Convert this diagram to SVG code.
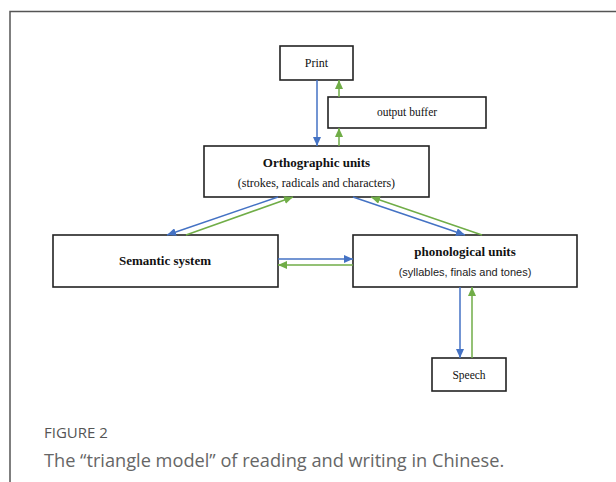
<svg xmlns="http://www.w3.org/2000/svg" width="616" height="482" viewBox="0 0 616 482">
<style>
.box{fill:#fff;stroke:#222;stroke-width:1.6}
.t{font-family:"Liberation Serif","Times New Roman",serif;fill:#111;text-anchor:middle}
.b{font-weight:bold;font-size:13px}
.s{font-family:"Liberation Sans",Arial,sans-serif;fill:#222;text-anchor:middle;font-size:11px}
.blue{stroke:#4472C4;stroke-width:1.5;fill:none;marker-end:url(#ab)}
.green{stroke:#70AD47;stroke-width:1.5;fill:none;marker-end:url(#ag)}
.cap{font-family:"Open Sans","Noto Sans",sans-serif}
</style>
<defs>
<marker id="ab" markerUnits="userSpaceOnUse" markerWidth="9" markerHeight="8" refX="9" refY="4" orient="auto"><path d="M0,0 L9,4 L0,8 z" fill="#4472C4"/></marker>
<marker id="ag" markerUnits="userSpaceOnUse" markerWidth="9" markerHeight="8" refX="9" refY="4" orient="auto"><path d="M0,0 L9,4 L0,8 z" fill="#70AD47"/></marker>
</defs>
<rect x="0" y="0" width="616" height="482" fill="#fff"/>
<path d="M10,482 V11.5 H616" fill="none" stroke="#555" stroke-width="1.5"/>
<g id="print"><rect class="box" x="280" y="46" width="73" height="34"/><text class="t" x="316.5" y="67" font-size="12">Print</text></g>
<g id="output-buffer"><rect class="box" x="328" y="97" width="158" height="31"/><text class="t" x="407" y="116" font-size="11.5">output buffer</text></g>
<g id="orthographic"><rect class="box" x="204" y="146" width="225" height="51"/><text class="t b" x="316.5" y="167">Orthographic units</text><text class="t" x="316.5" y="187" font-size="12">(strokes, radicals and characters)</text></g>
<g id="semantic"><rect class="box" x="53" y="235" width="225" height="52"/><text class="t b" x="165" y="265">Semantic system</text></g>
<g id="phonological"><rect class="box" x="353" y="235" width="224" height="52"/><text class="t b" x="465" y="256">phonological units</text><text class="s" x="465" y="276">(syllables, finals and tones)</text></g>
<g id="speech"><rect class="box" x="432" y="358" width="74" height="33"/><text class="t" x="469" y="379" font-size="11.5">Speech</text></g>
<g id="connectors">
<line class="blue" x1="317" y1="80" x2="317" y2="146"/>
<line class="green" x1="339" y1="97" x2="339" y2="80"/>
<line class="green" x1="339" y1="146" x2="339" y2="128"/>
<line class="blue" x1="278" y1="197" x2="167" y2="235"/>
<line class="green" x1="186" y1="235" x2="293" y2="197"/>
<line class="blue" x1="353" y1="197" x2="465" y2="235"/>
<line class="green" x1="482" y1="235" x2="371" y2="197"/>
<line class="blue" x1="278" y1="259" x2="353" y2="259"/>
<line class="green" x1="353" y1="265" x2="278" y2="265"/>
<line class="blue" x1="460" y1="287" x2="460" y2="358"/>
<line class="green" x1="472" y1="358" x2="472" y2="287"/>
</g>
<text class="cap" x="44" y="438" font-size="15" fill="#555">FIGURE 2</text>
<text class="cap" x="44" y="467" font-size="18.2" fill="#666">The “triangle model” of reading and writing in Chinese.</text>
</svg>
